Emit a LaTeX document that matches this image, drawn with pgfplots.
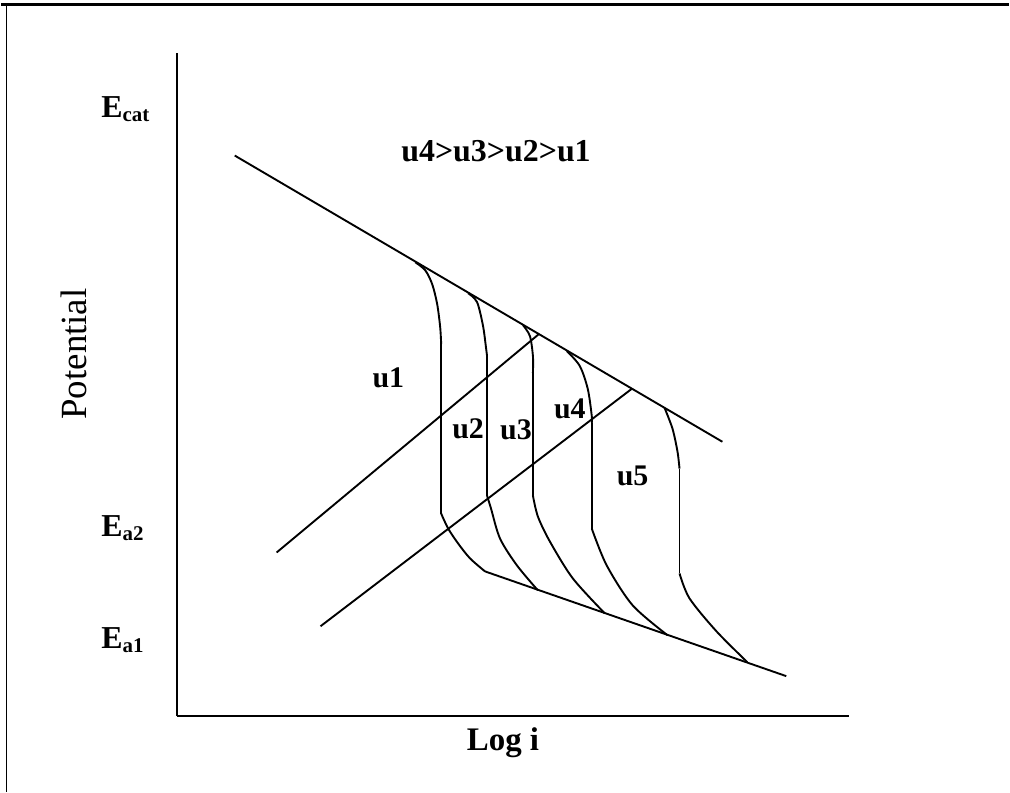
\documentclass[border=0pt]{standalone}
\usepackage{fontspec}
\setmainfont{Liberation Serif}
\usepackage{pgfplots}
\pgfplotsset{compat=1.18}
\begin{document}
\begin{tikzpicture}
\begin{axis}[
  scale only axis,
  width=674pt, height=665pt,
  xmin=176, xmax=850, ymin=76, ymax=741,
  axis lines=left,
  axis line style={-, line width=2pt},
  xtick=\empty, ytick=\empty,
  clip=false,
  every axis plot/.append style={black, solid, line width=1.9pt, no markers},
  xlabel={\fontsize{33}{38}\selectfont\bfseries Log i},
  xlabel style={at={(axis cs:503,49)}, anchor=center, inner sep=0pt},
  ylabel={\fontsize{37}{42}\selectfont Potential},
  ylabel style={at={(axis cs:73,439)}, anchor=center, rotate=0, inner sep=0pt},
]
% cathodic Tafel line
\addplot[black] coordinates {(234,638) (723,351)};
% two parallel lines
\addplot[black] coordinates {(276,240) (539,459)};
\addplot[black] coordinates {(320,166) (632,404)};
% anodic line
\addplot[black] coordinates {(485,221) (787,116)};

% u1
\addplot[black, smooth] coordinates {(415,531) (425,523) (432,509) (437,489) (440,466) (441,449)};
\addplot[black] coordinates {(441,449) (441,279)};
\addplot[black, smooth] coordinates {(441,279) (448,264) (458,249) (470,234) (485,221)};
% u2
\addplot[black, smooth] coordinates {(468,500) (477,491) (483,467) (486,445) (487,437)};
\addplot[black] coordinates {(487,437) (487,297)};
\addplot[black, smooth] coordinates {(487,297) (491,284) (500,254) (517,227) (538,202)};
% u3
\addplot[black, smooth] coordinates {(523,468) (530,457) (533,437) (533,420)};
\addplot[black] coordinates {(533,420) (533,297)};
\addplot[black, smooth] coordinates {(533,297) (538,276) (550,251) (573,214) (605,179)};
% u4
\addplot[black, smooth] coordinates {(567,442) (580,427) (588,404) (592,377) (592,370)};
\addplot[black] coordinates {(592,370) (592,264)};
\addplot[black, smooth] coordinates {(592,264) (607,227) (633,187) (668,157)};
% u5
\addplot[black, smooth] coordinates {(665,385) (673,364) (678,341) (680,324)};
\addplot[black] coordinates {(680,324) (680,219)};
\addplot[black, smooth] coordinates {(680,219) (690,194) (717,161) (748,130)};

% labels
\node[inner sep=0pt] at (axis cs:496,642) {\fontsize{32}{38}\selectfont\bfseries u4>u3>u2>u1};
\node[inner sep=0pt] at (axis cs:388,415) {\fontsize{30}{34}\selectfont\bfseries u1};
\node[inner sep=0pt] at (axis cs:468,364) {\fontsize{30}{34}\selectfont\bfseries u2};
\node[inner sep=0pt] at (axis cs:516,363) {\fontsize{30}{34}\selectfont\bfseries u3};
\node[inner sep=0pt] at (axis cs:570,384) {\fontsize{30}{34}\selectfont\bfseries u4};
\node[inner sep=0pt] at (axis cs:633,317) {\fontsize{30}{34}\selectfont\bfseries u5};

\node[inner sep=0pt, anchor=base west] at (axis cs:100,676)
  {\fontsize{32}{36}\selectfont\bfseries E\raisebox{-4pt}{\fontsize{21}{24}\selectfont cat}};
\node[inner sep=0pt, anchor=base west] at (axis cs:100,256)
  {\fontsize{32}{36}\selectfont\bfseries E\raisebox{-4pt}{\fontsize{21}{24}\selectfont a2}};
\node[inner sep=0pt, anchor=base west] at (axis cs:100,144)
  {\fontsize{32}{36}\selectfont\bfseries E\raisebox{-4pt}{\fontsize{21}{24}\selectfont a1}};

% outer frame
\draw[line width=2.8pt] (axis cs:0,789.5) -- (axis cs:1010,789.5);
\draw[line width=1.2pt] (axis cs:5,790) -- (axis cs:5,0);
\coordinate (bl) at (axis cs:0,0);
\coordinate (tr) at (axis cs:1010,794);
\end{axis}
\path (bl) rectangle (tr);
\end{tikzpicture}
\end{document}
